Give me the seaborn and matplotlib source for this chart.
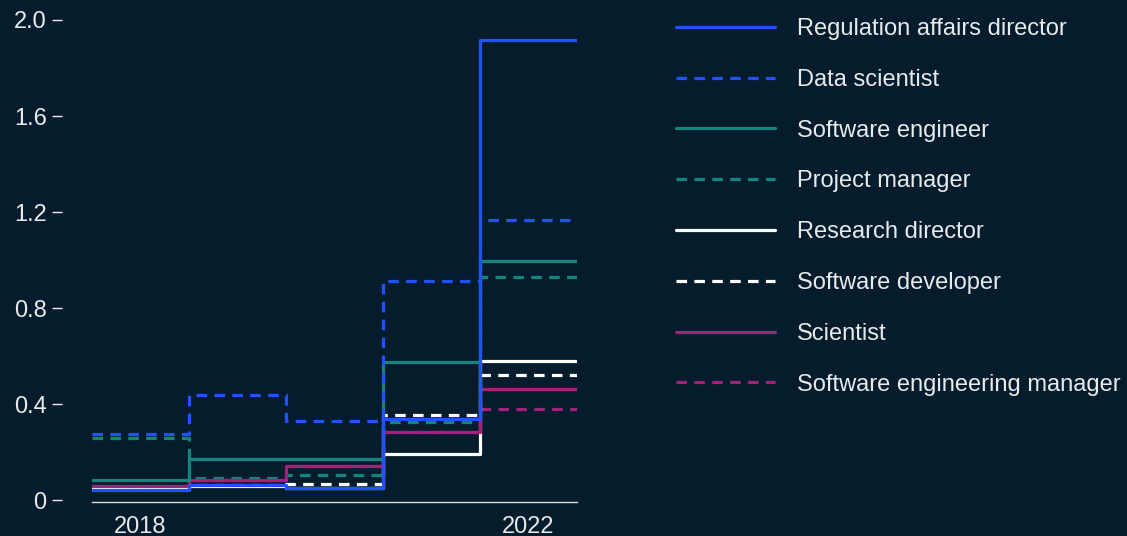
import matplotlib
matplotlib.use('Agg')
import matplotlib.pyplot as plt
import seaborn as sns
import pandas as pd
from matplotlib.lines import Line2D
from matplotlib.ticker import FuncFormatter

# Values per year
years = [2018, 2019, 2020, 2021, 2022]
regulation_affairs_director = [0.043, 0.061, 0.051, 0.338, 1.918]
data_scientist = [0.275, 0.436, 0.329, 0.912, 1.167]
software_engineer = [0.085, 0.170, 0.172, 0.576, 0.997]
project_manager = [0.257, 0.090, 0.103, 0.324, 0.930]
research_director = [0.045, 0.058, 0.050, 0.193, 0.578]
software_developer = [0.051, 0.062, 0.067, 0.353, 0.520]
scientist = [0.060, 0.083, 0.143, 0.283, 0.461]
software_engineering_manager = [0.060, 0.083, 0.143, 0.283, 0.379]

BG = '#051C2C'
BLUE = '#2251FF'
TEAL = '#14857A'
WHITE = '#FFFFFF'
MAGENTA = '#A1227A'
TEXT = '#E8EAEC'
DASH = (0, (3.3, 2.3))

series = [
    ('Regulation affairs director', regulation_affairs_director, BLUE, '-'),
    ('Data scientist', data_scientist, BLUE, DASH),
    ('Software engineer', software_engineer, TEAL, '-'),
    ('Project manager', project_manager, TEAL, DASH),
    ('Research director', research_director, WHITE, '-'),
    ('Software developer', software_developer, WHITE, DASH),
    ('Scientist', scientist, MAGENTA, '-'),
    ('Software engineering manager', software_engineering_manager, MAGENTA, DASH),
]
# order in which lines are stacked (first = bottom)
draw_order = ['Software engineering manager', 'Research director', 'Software developer',
              'Project manager', 'Scientist', 'Software engineer', 'Data scientist',
              'Regulation affairs director']

sns.set_style('dark')
plt.rcParams['font.family'] = ['Liberation Sans', 'DejaVu Sans']

fig = plt.figure(figsize=(11.27, 5.36), dpi=100, facecolor=BG)
ax = fig.add_axes([92 / 1127, 1 - 502 / 536, 485 / 1127, 482 / 536])
ax.set_facecolor(BG)

lookup = {s[0]: s for s in series}
for name in draw_order:
    _, vals, color, ls = lookup[name]
    # step edges: each year covers [year-0.5, year+0.5]
    edges = [y - 0.5 for y in years] + [years[-1] + 0.5]
    df = pd.DataFrame({'x': edges, 'value': vals + [vals[-1]]})
    sns.lineplot(data=df, x='x', y='value', ax=ax, color=color, linestyle=ls,
                 lw=2.3, drawstyle='steps-post', estimator=None)

ax.set_xlim(years[0] - 0.5, years[-1] + 0.5)
ax.set_ylim(-0.008, 2.0)
ax.set_xticks([years[0], years[-1]])
ax.set_yticks([0, 0.4, 0.8, 1.2, 1.6, 2.0])
ax.yaxis.set_major_formatter(FuncFormatter(lambda v, p: '0' if v == 0 else f'{v:.1f}'))
ax.set_xlabel('')
ax.set_ylabel('')
ax.grid(False)

for side in ['top', 'right', 'left']:
    ax.spines[side].set_visible(False)
ax.spines['left'].set_position(('outward', 21.6))
ax.spines['bottom'].set_color('#DDDDDD')
ax.spines['bottom'].set_linewidth(1.0)
ax.spines['bottom'].set_visible(True)

ax.tick_params(axis='y', colors=TEXT, labelsize=17, length=7, width=1.0,
               direction='out', pad=4, left=True)
ax.tick_params(axis='x', colors=TEXT, labelsize=17, length=0, pad=10)

handles = [Line2D([0], [0], color=c, linestyle=ls, lw=2.3) for _, _, c, ls in series]
labels = [s[0] for s in series]
leg = fig.legend(handles, labels, loc='upper left', bbox_to_anchor=(676 / 1127, 1 - 18 / 536),
                 frameon=False, fontsize=17, handlelength=4.2, handletextpad=0.92,
                 labelspacing=1.22, borderpad=0, borderaxespad=0)
for t in leg.get_texts():
    t.set_color(TEXT)

fig.savefig('out.png', dpi=100, facecolor=BG)
